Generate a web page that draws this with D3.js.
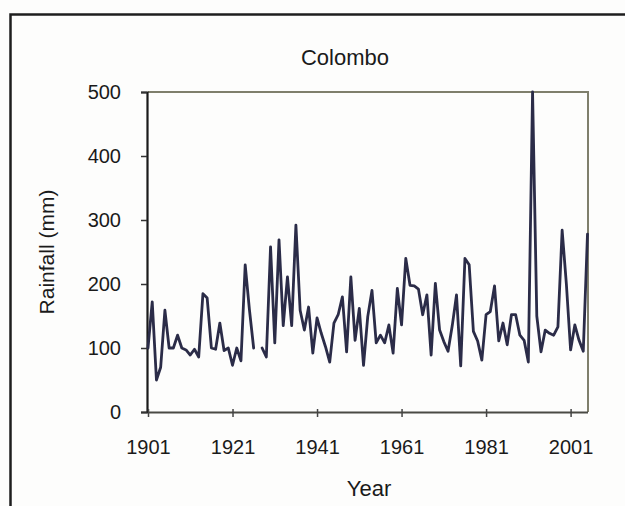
<!DOCTYPE html>
<html>
<head>
<meta charset="utf-8">
<script src="https://cdn.jsdelivr.net/npm/d3@7/dist/d3.min.js"></script>
<style>
  html, body { margin: 0; padding: 0; background: #fdfdfc; }
  svg { display: block; }
  text { font-family: "Liberation Sans", Arial, sans-serif; fill: #1a1a1a; }
</style>
</head>
<body>
<svg id="chart" width="625" height="506"></svg>
<script>
// Annual rainfall at Colombo, one value per year (null = no record)
const firstYear = 1901;
const lastYear = 2005;
const rainfall = [
  100, 172, 50, 70, 159, 100, 100, 120, 100, 97,     // 1901-1910
  89, 98, 86, 185, 178, 100, 98, 139, 96, 100,       // 1911-1920
  73, 100, 80, 230, 160, 100, null, 100, 86, 258,    // 1921-1930
  108, 269, 135, 211, 135, 292, 159, 128, 164, 92,   // 1931-1940
  147, 123, 102, 78, 139, 152, 180, 94, 211, 112,    // 1941-1950
  162, 73, 149, 190, 108, 120, 108, 136, 92, 193,    // 1951-1960
  136, 240, 198, 197, 192, 152, 183, 89, 201, 128,   // 1961-1970
  110, 95, 135, 183, 72, 240, 230, 126, 111, 81,     // 1971-1980
  152, 157, 197, 111, 139, 105, 152, 152, 120, 112,  // 1981-1990
  78, 500, 150, 94, 128, 123, 120, 133, 284, 200,    // 1991-2000
  97, 136, 112, 95, 278                              // 2001-2005
];
const xTickYears = [1901, 1921, 1941, 1961, 1981, 2001];
const yTicks = [0, 100, 200, 300, 400, 500];

const years = d3.range(firstYear, lastYear + 1);
const series = years.map((yr, i) => ({ year: yr, value: rainfall[i] }));

const svg = d3.select("#chart");
const fontStack = '"Liberation Sans", Arial, sans-serif';

// outer frame of the figure
svg.append("path")
  .attr("d", "M10.5,506 V14.5 H625")
  .attr("fill", "none")
  .attr("stroke", "#1e1e1e")
  .attr("stroke-width", 2.5);

const plot = { left: 148, right: 587.5, top: 92, bottom: 412 };

const x = d3.scaleLinear().domain([firstYear, lastYear]).range([plot.left, plot.right]);
const y = d3.scaleLinear().domain([0, 500]).range([plot.bottom, plot.top]);

// plot-area frame (top and right edges)
svg.append("path")
  .attr("d", `M${plot.left},${plot.top} H${plot.right + 0.5} V${plot.bottom}`)
  .attr("fill", "none")
  .attr("stroke", "#7f7f6c")
  .attr("stroke-width", 2);

// y axis
const yAxis = svg.append("g")
  .attr("transform", `translate(${plot.left - 1},0)`)
  .call(d3.axisLeft(y).tickValues(yTicks).tickSize(6).tickPadding(20));
yAxis.select(".domain").attr("stroke", "#1a1a1a").attr("stroke-width", 2.2);
yAxis.selectAll(".tick line").attr("stroke", "#333").attr("stroke-width", 1.5);
yAxis.selectAll(".tick text")
  .attr("font-size", 20)
  .style("font-family", fontStack)
  .attr("fill", "#1a1a1a");

// x axis
const xAxis = svg.append("g")
  .attr("transform", `translate(0,${plot.bottom})`)
  .call(d3.axisBottom(x).tickValues(xTickYears).tickFormat(d3.format("d"))
    .tickSizeInner(5).tickSizeOuter(0).tickPadding(23));
xAxis.select(".domain").attr("stroke", "#4a4a44").attr("stroke-width", 2.2);
xAxis.selectAll(".tick line").attr("stroke", "#444").attr("stroke-width", 1.5)
  .attr("y1", -3);
xAxis.selectAll(".tick text")
  .attr("font-size", 20)
  .style("font-family", fontStack)
  .attr("fill", "#1a1a1a");

// rainfall line
const line = d3.line()
  .defined(d => d.value !== null)
  .x(d => x(d.year))
  .y(d => y(d.value));

svg.append("path")
  .datum(series)
  .attr("d", line)
  .attr("fill", "none")
  .attr("stroke", "#2b2c48")
  .attr("stroke-width", 2.8)
  .attr("stroke-linejoin", "round")
  .attr("stroke-linecap", "round");

// titles
svg.append("text")
  .attr("x", 345).attr("y", 65)
  .attr("text-anchor", "middle")
  .attr("font-size", 22)
  .text("Colombo");

svg.append("text")
  .attr("x", 369).attr("y", 496)
  .attr("text-anchor", "middle")
  .attr("font-size", 22)
  .text("Year");

svg.append("text")
  .attr("transform", "translate(54,252) rotate(-90)")
  .attr("text-anchor", "middle")
  .attr("font-size", 21)
  .text("Rainfall (mm)");
</script>
</body>
</html>
